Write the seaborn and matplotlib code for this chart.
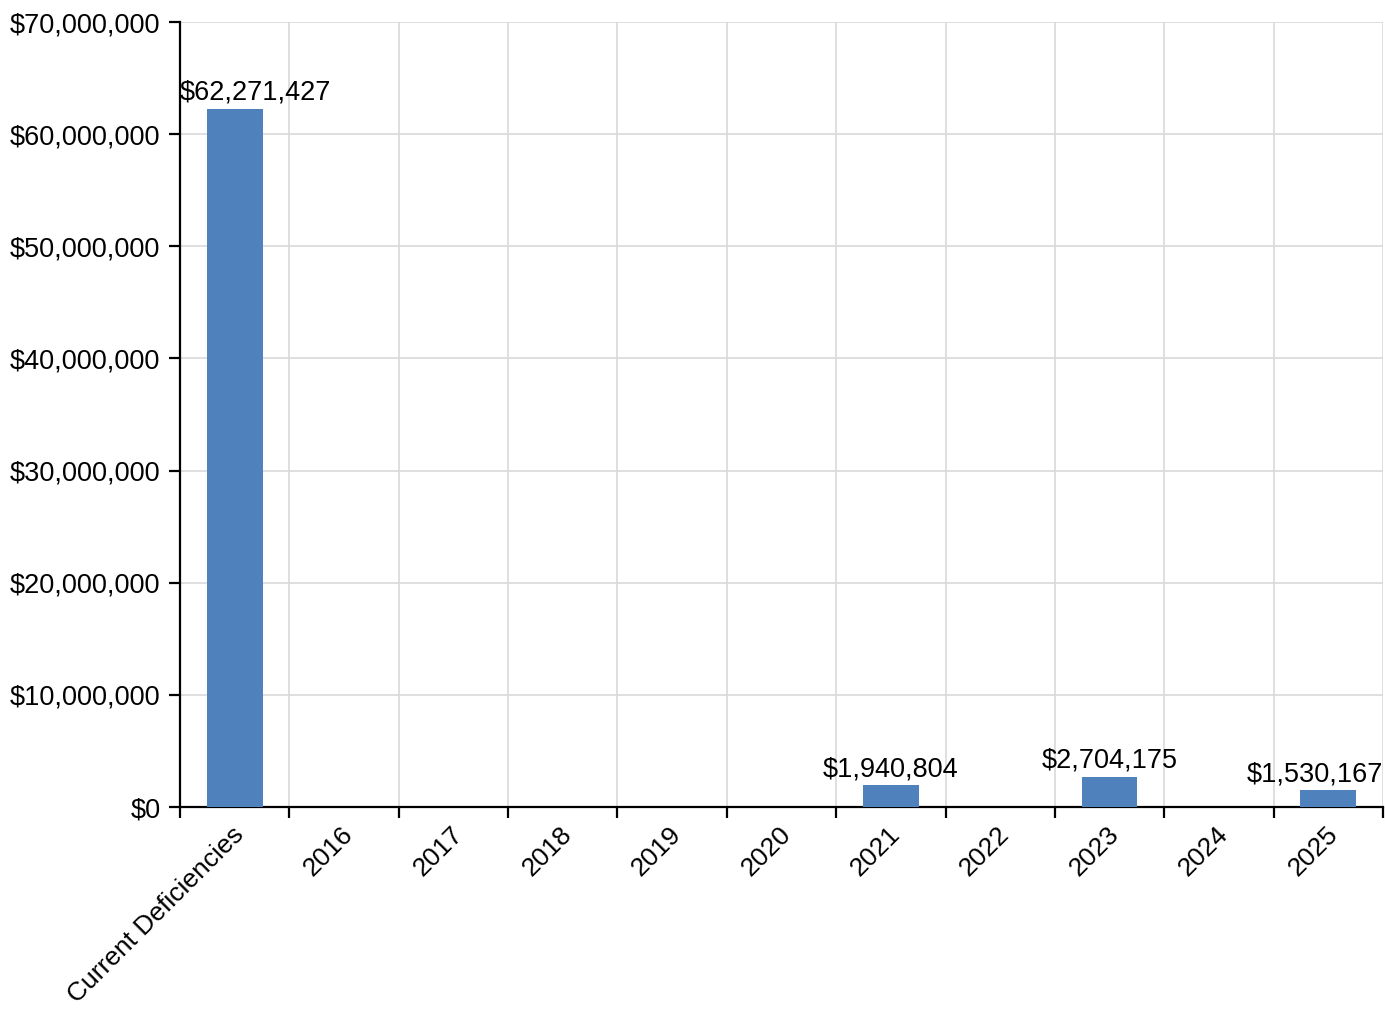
import matplotlib
matplotlib.use("Agg")
import matplotlib.pyplot as plt
import matplotlib.transforms as mtransforms
import seaborn as sns
import numpy as np
from matplotlib.ticker import FixedLocator, FuncFormatter

categories = ["Current Deficiencies", "2016", "2017", "2018", "2019", "2020",
              "2021", "2022", "2023", "2024", "2025"]
values = [62271427, 0, 0, 0, 0, 0, 1940804, 0, 2704175, 0, 1530167]
y_ticks = [0, 10000000, 20000000, 30000000, 40000000, 50000000, 60000000, 70000000]

sns.set_theme(style="white")
plt.rcParams['font.family'] = ['Liberation Sans', 'DejaVu Sans']

FS = 19.5

fig = plt.figure(figsize=(13.85, 10.13), dpi=100)
ax = fig.add_axes([180/1385, 1 - 807/1013, (1383-180)/1385, (807-22)/1013])

sns.barplot(x=categories, y=values, color="#4f81bd", width=0.51, ax=ax,
            saturation=1, linewidth=0, edgecolor="none", zorder=3)

n = len(categories)
ax.set_xlim(-0.5, n - 0.5)
ax.set_ylim(0, 70000000)

ax.yaxis.set_major_locator(FixedLocator(y_ticks))
ax.yaxis.set_major_formatter(FuncFormatter(lambda v, p: "${:,.0f}".format(v)))
ax.xaxis.set_minor_locator(FixedLocator(np.arange(-0.5, n, 1.0)))

ax.grid(True, axis="y", which="major", color="#d9d9d9", linewidth=1.2, zorder=0)
ax.grid(True, axis="x", which="minor", color="#d9d9d9", linewidth=1.2, zorder=0)
ax.grid(False, axis="x", which="major")
ax.set_axisbelow(True)

for s in ["top", "right"]:
    ax.spines[s].set_visible(False)
for s in ["left", "bottom"]:
    ax.spines[s].set_color("black")
    ax.spines[s].set_linewidth(1.6)

ax.tick_params(axis="y", which="major", direction="out", length=8, width=1.6,
               color="black", left=True, labelsize=FS, pad=6, labelcolor="black")
ax.tick_params(axis="x", which="major", length=0, labelsize=19, pad=11, labelcolor="black")
ax.tick_params(axis="x", which="minor", direction="out", length=8, width=1.6,
               color="black", bottom=True)

ax.set_xticks(range(n))
ax.set_xticklabels(categories, rotation=45, ha="right", rotation_mode="anchor")
offset = mtransforms.ScaledTranslation(-3/100, 0, fig.dpi_scale_trans)
for lbl in ax.get_xticklabels():
    lbl.set_transform(lbl.get_transform() + offset)
ax.set_xlabel("")
ax.set_ylabel("")

for i, v in enumerate(values):
    if v <= 0:
        continue
    txt = "${:,.0f}".format(v)
    if i == 0:
        x, ha = -0.5, "left"
    elif i == n - 1:
        x, ha = n - 0.5, "right"
    else:
        x, ha = i, "center"
    ax.annotate(txt, (x, v), xytext=(0, 2), textcoords="offset points",
                ha=ha, va="bottom", fontsize=FS, color="black", zorder=4,
                annotation_clip=False)

fig.savefig("out.png", dpi=100)
